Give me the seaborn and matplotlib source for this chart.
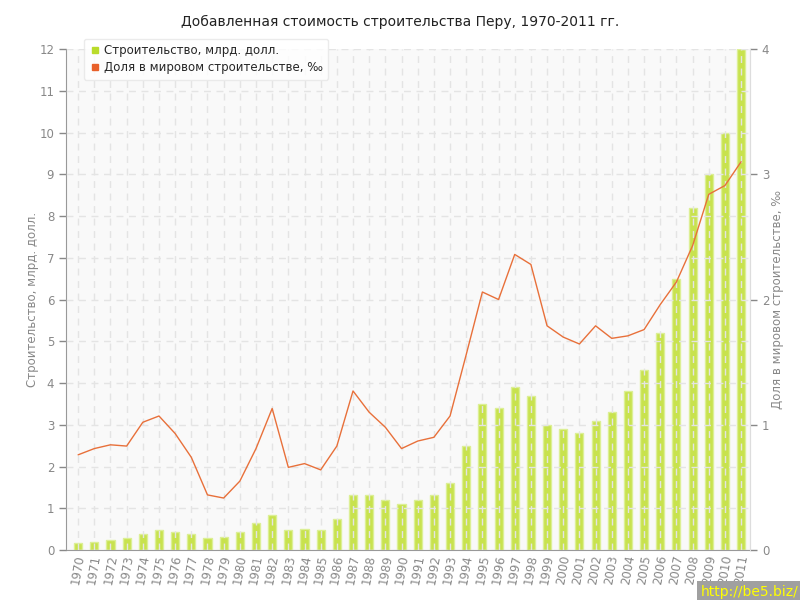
import numpy as np
import pandas as pd
import matplotlib
matplotlib.use('Agg')
import matplotlib.pyplot as plt
import seaborn as sns
from matplotlib.lines import Line2D

years = list(range(1970, 2012))
construction = [0.17, 0.20, 0.24, 0.29, 0.38, 0.47, 0.44, 0.38, 0.28, 0.30,
                0.44, 0.64, 0.85, 0.48, 0.50, 0.48, 0.74, 1.31, 1.31, 1.20,
                1.10, 1.20, 1.31, 1.60, 2.50, 3.50, 3.40, 3.90, 3.70, 3.00,
                2.90, 2.80, 3.10, 3.30, 3.80, 4.30, 5.20, 6.50, 8.20, 9.00,
                10.00, 12.00]
share = [0.76, 0.81, 0.84, 0.83, 1.02, 1.07, 0.93, 0.74, 0.44, 0.415,
         0.55, 0.81, 1.13, 0.66, 0.69, 0.64, 0.83, 1.27, 1.10, 0.98,
         0.81, 0.87, 0.90, 1.07, 1.56, 2.06, 2.00, 2.36, 2.28, 1.79,
         1.70, 1.645, 1.79, 1.69, 1.71, 1.76, 1.96, 2.14, 2.43, 2.84,
         2.91, 3.10]

df = pd.DataFrame({'year': years, 'construction': construction, 'share': share})

sns.set_style('white')
plt.rcParams['font.family'] = ['DejaVu Sans']

fig = plt.figure(figsize=(8, 6), dpi=100)
ax = fig.add_axes([0.0825, 0.0833, 0.855, 0.835])
ax.set_facecolor('#f9f9f9')

sns.barplot(data=df, x='year', y='construction', native_scale=True, width=0.5,
            color='#c8e24e', edgecolor='#dcef95', linewidth=1, saturation=1, ax=ax, zorder=2)
ax.set_xlim(1969.25, 2011.55)
ax.set_ylim(0, 12)
ax.set_yticks(range(0, 13))
ax.set_xticks(years)
ax.set_xticklabels([str(y) for y in years], rotation=80, fontsize=8.5, color='#888888')
ax.tick_params(axis='y', labelsize=8.5, colors='#888888', length=5, width=1, direction='out', left=True)
ax.tick_params(axis='x', length=0, pad=3)
ax.grid(True, color='#e4e4e4', linestyle=(0, (5, 4)), linewidth=1, zorder=3)
ax.set_axisbelow(False)
ax.set_xlabel('')
ax.set_ylabel('Строительство, млрд. долл.', fontsize=8.5, color='#888888')
ax.yaxis.set_label_coords(-0.04, 0.5)
ax.spines['top'].set_visible(False)
ax.spines['left'].set_color('#999999')
ax.spines['bottom'].set_color('#999999')
ax.spines['right'].set_color('#dddddd')

ax2 = ax.twinx()
sns.lineplot(data=df, x='year', y='share', color='#e8703a', linewidth=1, ax=ax2, zorder=4)
ax2.set_ylim(0, 4)
ax2.set_yticks(range(0, 5))
ax2.tick_params(axis='y', labelsize=8.5, colors='#888888', length=5, width=1, direction='out', right=True)
ax2.set_ylabel('Доля в мировом строительстве, ‰', fontsize=8.5, color='#888888')
ax2.yaxis.set_label_coords(1.03, 0.5)
ax2.grid(False)
for side in ['top', 'left', 'bottom']:
    ax2.spines[side].set_visible(False)
ax2.spines['right'].set_color('#dddddd')
ax2.set_xlim(1969.25, 2011.55)

handles = [Line2D([], [], marker='s', linestyle='', color='#b9db2a', markersize=5),
           Line2D([], [], marker='s', linestyle='', color='#e8602a', markersize=5)]
leg = fig.legend(handles, ['Строительство, млрд. долл.', 'Доля в мировом строительстве, ‰'],
                 loc='upper left', bbox_to_anchor=(0.097, 0.945), fontsize=8.5, frameon=True,
                 fancybox=True, handletextpad=0.3, borderpad=0.45, labelspacing=0.35,
                 handlelength=1.0)
leg.get_frame().set_edgecolor('#e6e6e6')
leg.get_frame().set_facecolor('white')
leg.set_zorder(10)

fig.suptitle('Добавленная стоимость строительства Перу, 1970-2011 гг.', y=0.975, fontsize=10, color='#222222')

fig.text(0.998, 0.002, 'http://be5.biz/', ha='right', va='bottom', fontsize=10, color='#ffff00',
         bbox=dict(boxstyle='square,pad=0.25', facecolor='#a0a0a0', edgecolor='none'))

fig.savefig('out.png', dpi=100)
